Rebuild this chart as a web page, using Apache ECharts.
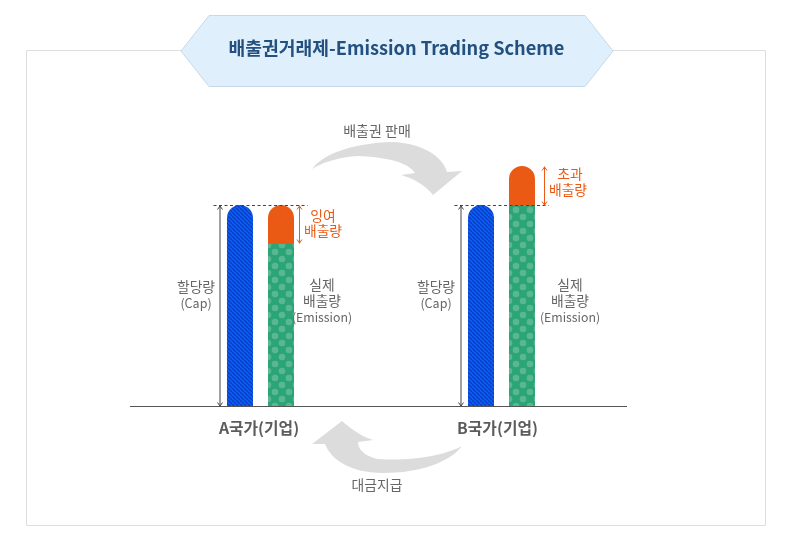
<!DOCTYPE html>
<html><head><meta charset="utf-8">
<style>html,body{margin:0;padding:0;background:#fff}#c{width:791px;height:546px}</style>
<script src="https://cdn.jsdelivr.net/npm/echarts@6/dist/echarts.min.js"></script>
</head><body><div id="c"></div>
<script>
const categories = ['A국가(기업)', 'B국가(기업)'];
const capValues = [100, 100];
const emissionWithinCap = [80.7, 100];
const surplusRange = [19.3, 0];
const excessRange = [0, 19.3];
const chartTitle = '배출권거래제-Emission Trading Scheme';

function blueTile() {
  const s = 4, c = document.createElement('canvas'); c.width = s; c.height = s;
  const g = c.getContext('2d');
  g.fillStyle = '#0a60f0'; g.fillRect(0, 0, s, s);
  g.strokeStyle = '#0a3cc8'; g.lineWidth = 1.3;
  for (let i = -s; i <= s * 2; i += s) { g.beginPath(); g.moveTo(i, 0); g.lineTo(i + s, s); g.stroke(); }
  return c;
}
function greenTile(xo) {
  const s = 14, c = document.createElement('canvas'); c.width = s; c.height = s;
  const g = c.getContext('2d');
  g.fillStyle = '#2ba476'; g.fillRect(0, 0, s, s);
  g.fillStyle = '#5ab794';
  g.filter = 'blur(0.5px)';
  for (const [dx, dy] of [[0, 0], [7, 7]]) for (const ox of [-14, 0, 14]) for (const oy of [-14, 0, 14]) {
    g.beginPath(); g.arc(xo + dx + ox, dy + oy, 3.3, 0, 7); g.fill();
  }
  return c;
}
const greenOffsets = [9, 12];
const GREY = '#666', ORANGE = '#ea5a14', FONT = '"Noto Sans CJK KR","Noto Sans",sans-serif';
const chart = echarts.init(document.getElementById('c'), null, { renderer: 'canvas' });
chart.setOption({
  animation: false,
  title: { text: chartTitle, left: 396.5, top: 37, padding: 0, textAlign: 'center',
    textStyle: { fontFamily: FONT, fontSize: 18.2, fontWeight: 'bold', color: '#23507f', lineHeight: 22 }, z: 20 },
  grid: { left: 140, right: 169, top: 154.5, bottom: 139 },
  xAxis: { type: 'category', data: [
      { value: categories[0], textStyle: { padding: [0, 3, 0, 0] } },
      { value: categories[1], textStyle: { padding: [0, 8, 0, 0] } } ],
    axisLine: { show: false }, axisTick: { show: false },
    axisLabel: { margin: 13, fontFamily: FONT, fontSize: 15.8, fontWeight: 'bold', color: '#5c5c5c' } },
  yAxis: { type: 'value', min: 0, max: 125, show: false },
  series: [
    { name: '할당량', type: 'bar', stack: 'cap', data: capValues, barWidth: 26, barGap: '57.7%',
      itemStyle: { color: { image: blueTile(), repeat: 'repeat' }, borderRadius: [13, 13, 0, 0] } },
    { name: '실제 배출량', type: 'bar', stack: 'em', barWidth: 26,
      data: emissionWithinCap.map((v, i) => ({ value: v, itemStyle: { color: { image: greenTile(greenOffsets[i]), repeat: 'repeat' } } })) },
    { name: '초과/잉여', type: 'bar', stack: 'em', barWidth: 26,
      data: surplusRange.map((v, i) => v + excessRange[i]),
      itemStyle: { color: ORANGE, borderRadius: [13, 13, 0, 0] } }
  ]
});

const gx = i => chart.convertToPixel({ xAxisIndex: 0 }, categories[i]);
const gy = v => chart.convertToPixel({ yAxisIndex: 0 }, v);
const els = [];
const txt = (x, y, text, color, size) => els.push({ type: 'text', z: 10, style: {
  x, y, text, fill: color || GREY, font: `${size || 13.8}px ${FONT}`, align: 'center', verticalAlign: 'middle' } });
const line = (x1, y1, x2, y2, stroke, dash) => els.push({ type: 'line', z: 6,
  shape: { x1, y1, x2, y2 }, style: { stroke, lineWidth: 1, lineDash: dash || null } });
function dblArrow(x, yTop, yBot, color) {
  line(x, yTop, x, yBot, color);
  els.push({ type: 'polyline', z: 6, shape: { points: [[x - 2.5, yTop + 4], [x, yTop + .5], [x + 2.5, yTop + 4]] }, style: { stroke: color, lineWidth: 1, fill: null } });
  els.push({ type: 'polyline', z: 6, shape: { points: [[x - 2.5, yBot - 4], [x, yBot - .5], [x + 2.5, yBot - 4]] }, style: { stroke: color, lineWidth: 1, fill: null } });
}
function blob(start, segs) {
  const pts = [start]; let p = start;
  for (const s of segs) {
    if (s.length === 2) { pts.push(s); p = s; continue; }
    for (let k = 1; k <= 16; k++) {
      const t = k / 16, u = 1 - t;
      pts.push([
        u*u*u*p[0] + 3*u*u*t*s[0] + 3*u*t*t*s[2] + t*t*t*s[4],
        u*u*u*p[1] + 3*u*u*t*s[1] + 3*u*t*t*s[3] + t*t*t*s[5]]);
    }
    p = [s[4], s[5]];
  }
  return pts;
}
// frame, title plate
els.push({ type: 'rect', z: -5, shape: { x: 26.5, y: 50.5, width: 739, height: 475 }, style: { fill: '#fff', stroke: '#dddddd', lineWidth: 1 } });
els.push({ type: 'polygon', z: 0, shape: { points: [[181, 51], [209, 15.5], [585, 15.5], [613, 51], [585, 86.5], [209, 86.5]] }, style: { fill: '#dfeffb', stroke: '#c5d9ea', lineWidth: 1 } });
// baseline
const base = Math.floor(gy(0)) - 0.5;
els.push({ type: 'line', z: 7, shape: { x1: 130, y1: base, x2: 627, y2: base }, style: { stroke: '#555', lineWidth: 1 } });
// annotations positioned from the data scales
const capY = Math.floor(gy(capValues[0])) + 0.5;
const ax = gx(0), bx = gx(1);
line(ax - 47, capY, ax + 47, capY, '#444', [3, 2.5]);
line(bx - 47, capY, bx + 47, capY, '#444', [3, 2.5]);
dblArrow(ax - 40.5, capY, base, '#444');
dblArrow(bx - 40.5, capY, base, '#444');
dblArrow(ax + 39, capY, Math.floor(gy(emissionWithinCap[0])) + 0.5, ORANGE);
dblArrow(bx + 43, Math.floor(gy(capValues[1] + excessRange[1])) + 0.5, capY, ORANGE);
txt(196, 287, '할당량'); txt(196, 303, '(Cap)', GREY, 12.5);
txt(436, 287, '할당량'); txt(436, 303, '(Cap)', GREY, 12.5);
txt(322, 285, '실제'); txt(322, 301, '배출량'); txt(322, 317, '(Emission)', GREY, 12.3);
txt(570, 285, '실제'); txt(570, 301, '배출량'); txt(570, 317, '(Emission)', GREY, 12.3);
txt(323, 216, '잉여', ORANGE); txt(323, 231, '배출량', ORANGE);
txt(570, 174, '초과', ORANGE); txt(568, 190, '배출량', ORANGE);
txt(377, 131, '배출권 판매', GREY, 14); txt(377, 485, '대금지급');
// flow arrows
els.push({ type: 'polygon', z: 3, shape: { points: blob([312, 169], [
  [322, 155, 350, 143, 393, 142], [420, 143, 442, 155, 447, 172], [462, 171], [433, 195],
  [426, 186, 415, 179, 401, 175], [415, 173], [408, 162, 385, 157, 358, 156], [340, 157, 323, 162, 312, 169]]) },
  style: { fill: '#dcdcdc' } });
els.push({ type: 'polygon', z: 3, shape: { points: blob([462, 446], [
  [440, 458, 400, 461, 378, 459], [364, 456, 358, 449, 358, 442], [373, 440],
  [362, 437, 350, 428, 342, 421], [312, 444], [325, 444], [332, 462, 354, 473, 383, 473], [420, 473, 450, 462, 462, 446]]) },
  style: { fill: '#dcdcdc' } });
chart.setOption({ graphic: { elements: els } });
</script></body></html>
